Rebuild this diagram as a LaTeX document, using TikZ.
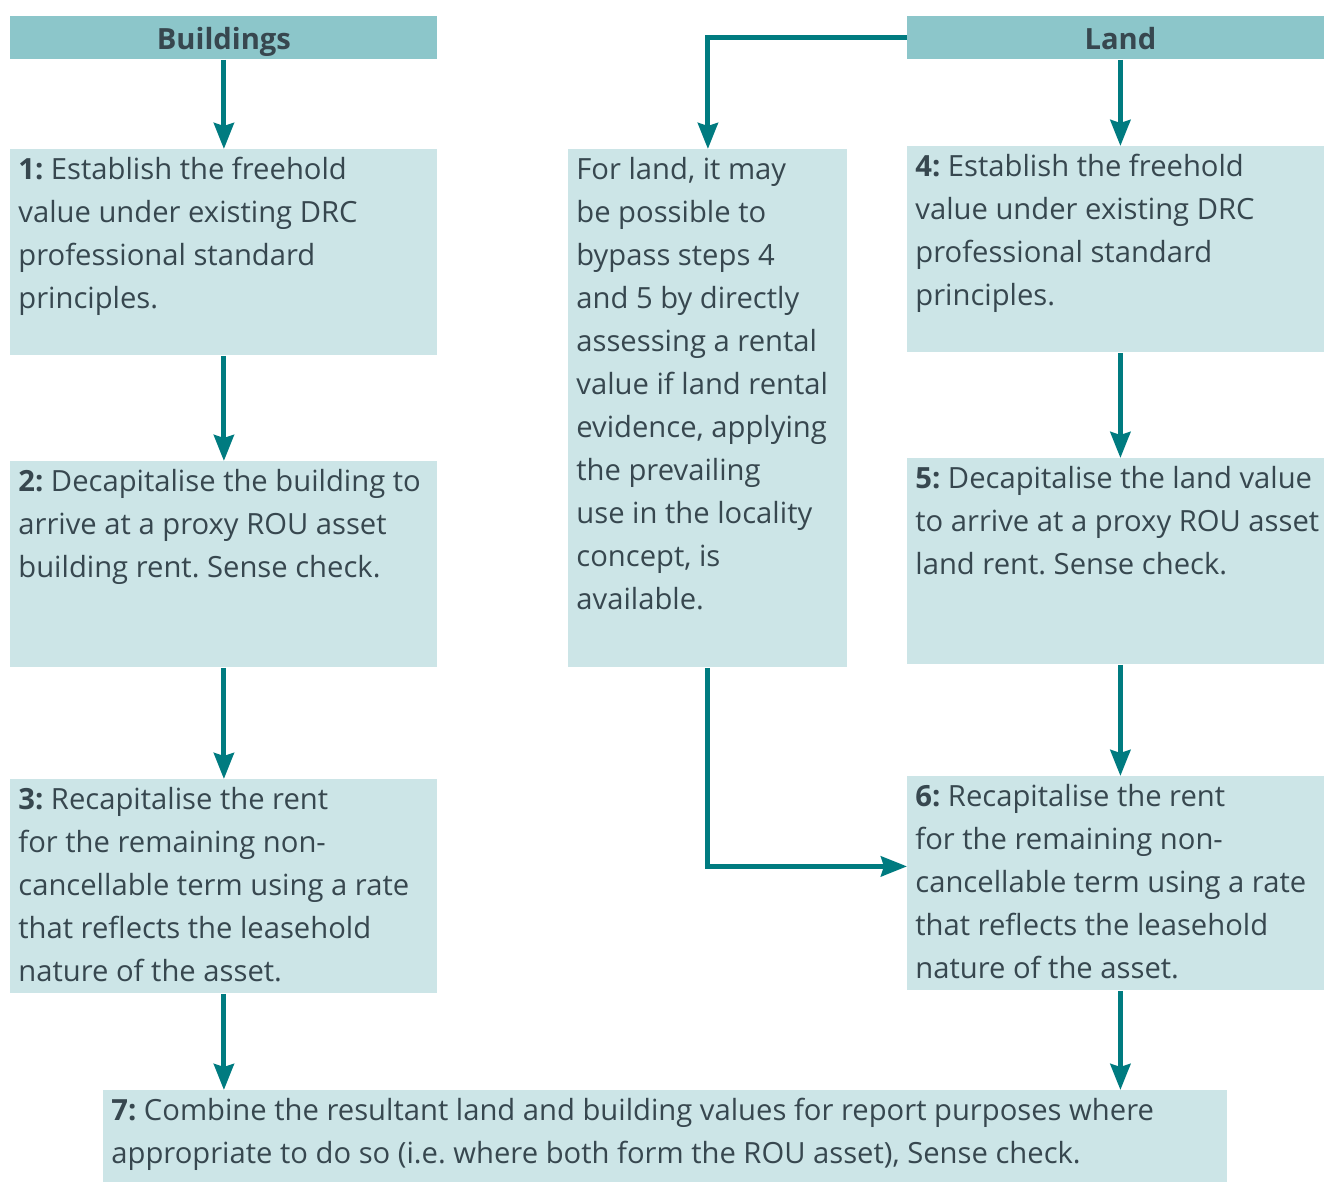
\documentclass[tikz,border=0pt]{standalone}
\usepackage{fontspec}
\setmainfont{Open Sans}
\usetikzlibrary{positioning,arrows.meta}
\definecolor{hdr}{HTML}{8CC6CA}
\definecolor{stp}{HTML}{CCE5E7}
\definecolor{arw}{HTML}{007B80}
\definecolor{ink}{HTML}{37474F}
\tikzset{>={Stealth[length=13pt,width=10pt,inset=1.5pt]}}
\frenchspacing
\begin{document}
\begin{tikzpicture}[x=0.5pt,y=-0.5pt,
    header/.style={fill=hdr, text=ink, font=\bfseries\fontsize{14.6}{18}\selectfont,
      anchor=north west, minimum width=#1, minimum height=21.5pt, inner sep=0pt,
      text height=14pt, text depth=2.5pt},
    stepbox/.style={fill=stp, anchor=north west, inner sep=0pt},
    steptext/.style={anchor=north west, text=ink, align=left, inner xsep=4pt, inner ysep=4pt,
      font=\fontsize{14.6}{21.5}\selectfont},
    flow/.style={->, draw=arw, line width=2.5pt},
  ]
  \useasboundingbox (0,0) rectangle (1324,1182);

  % Headers
  \node[header=213.5pt] (bld)  at (10,16)  {Buildings};
  \node[header=213pt]   (land) at (907,16) {Land};

  % Buildings column
  \node[stepbox, minimum width=213.5pt, minimum height=103pt] (b1) at (10,149) {};
  \node[stepbox, minimum width=213.5pt, minimum height=103pt] (b2) at (10,461) {};
  \node[stepbox, minimum width=213.5pt, minimum height=107pt] (b3) at (10,779) {};

  % Middle box
  \node[stepbox, minimum width=139.5pt, minimum height=259pt] (mid) at (568,149) {};

  % Land column (runs past the right edge)
  \node[stepbox, minimum width=213pt, minimum height=103pt] (b4) at (907,146) {};
  \node[stepbox, minimum width=213pt, minimum height=103pt] (b5) at (907,458) {};
  \node[stepbox, minimum width=213pt, minimum height=107pt] (b6) at (907,776) {};

  % Combined
  \node[stepbox, minimum width=562pt, minimum height=46pt] (b7) at (103,1090) {};

  % Texts
  \node[steptext] at (b1.north west) {\textbf{1:} Establish the freehold\\value under existing DRC\\professional standard\\principles.};
  \node[steptext] at (b2.north west) {\textbf{2:} Decapitalise the building to\\arrive at a proxy ROU asset\\building rent. Sense check.};
  \node[steptext] at (b3.north west) {\textbf{3:} Recapitalise the rent\\for the remaining non-\\cancellable term using a rate\\that reflects the leasehold\\nature of the asset.};
  \node[steptext] at (mid.north west) {For land, it may\\be possible to\\bypass steps 4\\and 5 by directly\\assessing a rental\\value if land rental\\evidence, applying\\the prevailing\\use in the locality\\concept, is\\available.};
  \node[steptext] at (b4.north west) {\textbf{4:} Establish the freehold\\value under existing DRC\\professional standard\\principles.};
  \node[steptext] at (b5.north west) {\textbf{5:} Decapitalise the land value\\to arrive at a proxy ROU asset\\land rent. Sense check.};
  \node[steptext] at (b6.north west) {\textbf{6:} Recapitalise the rent\\for the remaining non-\\cancellable term using a rate\\that reflects the leasehold\\nature of the asset.};
  \node[steptext] at (b7.north west) {\textbf{7:} Combine the resultant land and building values for report purposes where\\appropriate to do so (i.e. where both form the ROU asset), Sense check.};

  % Arrows
  \draw[flow] (bld) -- (b1);
  \draw[flow] (b1) -- (b2);
  \draw[flow] (b2) -- (b3);
  \draw[flow] (b3.south) -- (b3.south |- b7.north);
  \draw[flow] (land) -- (b4);
  \draw[flow] (b4) -- (b5);
  \draw[flow] (b5) -- (b6);
  \draw[flow] (b6.south) -- (b6.south |- b7.north);
  \draw[flow] (land.west) -| (mid.north);
  \draw[flow] (mid.south) |- ([yshift=8.5pt]b6.west);
\end{tikzpicture}
\end{document}
